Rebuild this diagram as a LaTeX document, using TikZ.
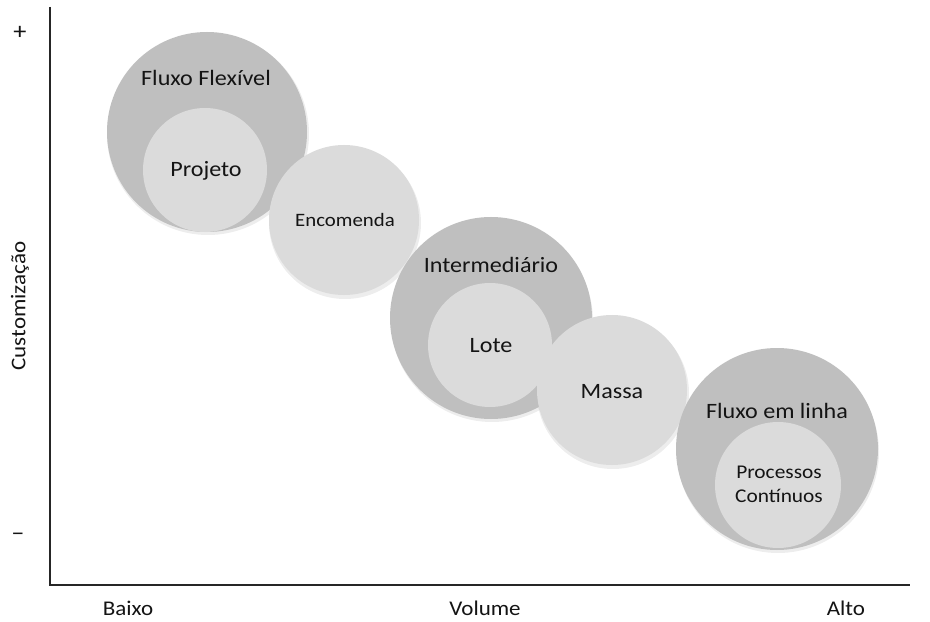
\documentclass[tikz,border=0pt]{standalone}
\usepackage{fontspec}
\setmainfont{Carlito}[FakeStretch=1.1]
\begin{document}
\begin{tikzpicture}[x=1bp,y=-1bp,
  bigc/.style={circle,fill=bigfill,draw=none,inner sep=0pt,minimum size=#1},
  smallc/.style={circle,fill=smallfill,draw=none,inner sep=0pt,minimum size=#1},
  shad/.style={circle,fill=black,opacity=0.07,draw=none,inner sep=0pt,minimum size=#1},
  lab/.style={anchor=base,text=txt,inner sep=0pt,font=\fontsize{22}{26}\selectfont},
  axlab/.style={anchor=base,text=txt,inner sep=0pt,font=\fontsize{21}{25}\selectfont},
  axis/.style={draw=axcol,line width=1.6bp}]
\definecolor{bigfill}{HTML}{BFBFBF}
\definecolor{smallfill}{HTML}{DBDBDB}
\definecolor{txt}{HTML}{141414}
\definecolor{axcol}{HTML}{262626}
\useasboundingbox[fill=white] (0,0) rectangle (930,622);
% axes
\coordinate (o) at (50,585);
\coordinate (ytop) at (50,7);
\coordinate (xend) at (910,585);
\draw[axis] (ytop) -- (o) -- (xend);
\node[axlab,font=\fontsize{24}{28}\selectfont] (plus) at (20,40) {+};
\node[axlab,font=\fontsize{24}{28}\selectfont] (minus) at (18,540) {–};
\node[axlab,anchor=center,rotate=90] (cust) at (20,306) {Customização};
\node[axlab] (baixo) at (128,615) {Baixo};
\node[axlab] (volume) at (485,615) {Volume};
\node[axlab] (alto) at (846,615) {Alto};
% shadows
\node[shad=202bp] at (208,134) {};
\node[shad=152bp] at (345,223) {};
\node[shad=202bp] at (492,321) {};
\node[shad=152bp] at (613,393) {};
\node[shad=202bp] at (778,452) {};
% circles
\node[bigc=200bp] (ff) at (207,132) {};
\node[smallc=124bp] (proj) at (205,170) {};
\node[smallc=150bp] (enc) at (344,220) {};
\node[bigc=202bp] (inter) at (491,318) {};
\node[smallc=124bp] (lote) at (490,345) {};
\node[smallc=150bp] (massa) at (612,390) {};
\node[bigc=202bp] (fel) at (777,449) {};
\node[smallc=126bp] (pc) at (778,485) {};
% labels
\node[lab] (tff) at (206,86) {Fluxo Flexível};
\node[lab] (tproj) at (206,177) {Projeto};
\node[lab,font=\fontsize{19}{23}\selectfont] (tenc) at (345,227) {Encomenda};
\node[lab] (tinter) at (491,273) {Intermediário};
\node[lab] (tlote) at (491,352) {Lote};
\node[lab] (tmassa) at (612,398) {Massa};
\node[lab] (tfel) at (777,418) {Fluxo em linha};
\node[lab,font=\fontsize{19.5}{23}\selectfont] (tproc) at (779,478) {Processos};
\node[lab,font=\fontsize{19.5}{23}\selectfont] (tcont) at (779,502) {Contínuos};
\end{tikzpicture}
\end{document}
